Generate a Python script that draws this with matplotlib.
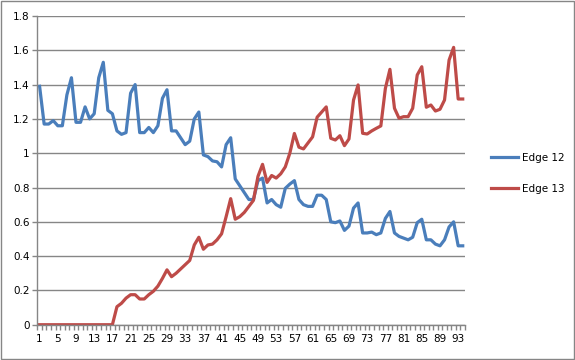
import matplotlib
matplotlib.use("Agg")
import matplotlib.pyplot as plt
from matplotlib.ticker import FixedLocator, FuncFormatter

# valeurs (94 points)
days = list(range(1, 95))

edge12 = [1.39, 1.17, 1.17, 1.19, 1.16, 1.16, 1.34, 1.44, 1.18, 1.18, 1.27, 1.20, 1.23,
          1.44, 1.53, 1.25, 1.23, 1.13, 1.11, 1.12, 1.35, 1.40, 1.12, 1.12, 1.15, 1.12,
          1.16, 1.32, 1.37, 1.13, 1.13, 1.09, 1.05, 1.07,
          1.20, 1.24, 0.99, 0.98, 0.955, 0.95, 0.92, 1.05, 1.09, 0.85, 0.81, 0.77, 0.73, 0.73,
          0.84, 0.855, 0.71, 0.73, 0.70, 0.685, 0.795, 0.82, 0.84, 0.73, 0.70, 0.69, 0.69,
          0.755, 0.755, 0.73,
          0.60, 0.595, 0.605, 0.55, 0.575, 0.68, 0.71, 0.535, 0.535, 0.54, 0.525, 0.535,
          0.62, 0.66, 0.535, 0.515, 0.505, 0.495, 0.51, 0.595, 0.615, 0.495, 0.495, 0.47,
          0.46, 0.495, 0.57, 0.60, 0.46, 0.46]

edge13 = [0] * 17 + [
          0.105, 0.125, 0.155, 0.175, 0.175, 0.15, 0.15, 0.175, 0.195, 0.225, 0.27, 0.32,
          0.28, 0.30, 0.325, 0.35, 0.375, 0.465, 0.51, 0.44, 0.465, 0.47, 0.495, 0.53,
          0.63, 0.735, 0.615, 0.63, 0.655, 0.69, 0.725, 0.865, 0.935, 0.83, 0.87, 0.855,
          0.88, 0.92, 1.0, 1.115, 1.035, 1.025, 1.06, 1.095, 1.21, 1.24, 1.27,
          1.087, 1.077, 1.102, 1.044, 1.083, 1.31, 1.398, 1.116, 1.112, 1.13, 1.145, 1.159,
          1.378, 1.489, 1.262, 1.204, 1.213, 1.213, 1.262, 1.456, 1.504, 1.268, 1.281,
          1.246, 1.256, 1.31, 1.543, 1.617, 1.316, 1.316]

yticks = [0, 0.2, 0.4, 0.6, 0.8, 1, 1.2, 1.4, 1.6, 1.8]
xlabels = list(range(1, 95, 4))

grey = "#868686"
plt.rcParams["font.family"] = ["DejaVu Sans"]

fig = plt.figure(figsize=(5.75, 3.6), dpi=100)
ax = fig.add_axes([0.0649, 0.098, 0.7438, 0.8576])

ax.plot(days, edge12, color="#4A7EBB", lw=2.3, label="Edge 12", solid_joinstyle="round")
ax.plot(days, edge13, color="#BE4B48", lw=2.3, label="Edge 13", solid_joinstyle="round")

ax.set_xlim(0.5, 94.5)
ax.set_ylim(0, 1.8)
ax.set_yticks(yticks)
ax.yaxis.set_major_formatter(FuncFormatter(lambda v, p: ("%g" % round(v, 1))))
ax.grid(axis="y", color=grey, lw=1)
ax.set_axisbelow(True)

ax.xaxis.set_major_locator(FixedLocator(xlabels))
ax.xaxis.set_minor_locator(FixedLocator([d + 0.5 for d in range(0, 95)]))
ax.tick_params(axis="x", which="major", length=0, pad=7, labelsize=7.5)
ax.tick_params(axis="x", which="minor", length=3.5, color=grey, width=1)
ax.tick_params(axis="y", length=3.5, color=grey, width=1, pad=2, labelsize=7.5)

for s in ["top", "right"]:
    ax.spines[s].set_visible(False)
for s in ["left", "bottom"]:
    ax.spines[s].set_color(grey)
    ax.spines[s].set_linewidth(1)

fig.legend(loc="center left", bbox_to_anchor=(0.845, 0.518), frameon=False,
           fontsize=7.5, handlelength=2.6, handletextpad=0.4, labelspacing=2.0,
           borderpad=0)

fig.patches.append(plt.Rectangle((0.001, 0.002), 0.997, 0.996, transform=fig.transFigure,
                                 fill=False, edgecolor=grey, lw=1))

fig.savefig("out.png", dpi=100)
